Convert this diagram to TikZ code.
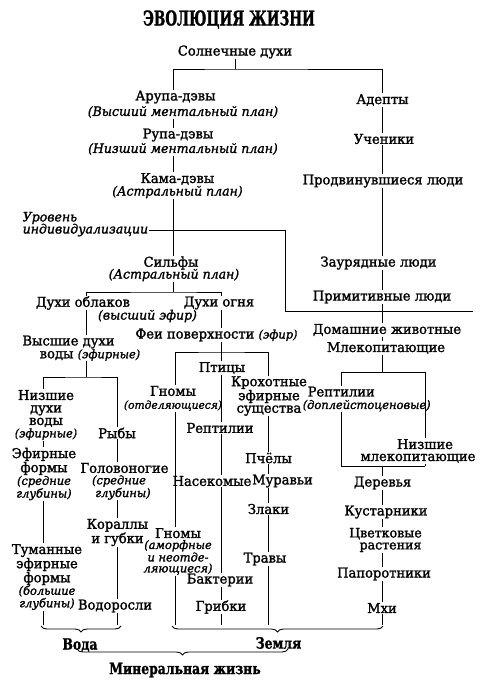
\documentclass[tikz,border=0pt]{standalone}
\usepackage{fontspec}
\setmainfont{DejaVu Serif}[FakeStretch=0.97, FakeBold=1.6]
\newfontfamily\titlefont{DejaVu Serif}[FakeStretch=0.66, FakeBold=1.2]
\newfontfamily\labfont{DejaVu Serif}[FakeStretch=0.80, FakeBold=1.2]
\usetikzlibrary{decorations.pathreplacing}
\newcommand{\smit}[1]{{\fontsize{11.8}{11}\selectfont\itshape #1}}
\begin{document}
\begin{tikzpicture}[x=1pt,y=-1pt,
  n/.style={inner sep=0.5pt, align=center, font=\fontsize{13.5}{12}\selectfont},
  s/.style={inner sep=0.5pt, align=center, font=\fontsize{12.9}{11}\selectfont\itshape},
  si/.style={inner sep=0.5pt, align=center, font=\fontsize{11.8}{11}\selectfont\itshape},
  lab/.style={inner sep=0.5pt, font=\labfont\bfseries\fontsize{15.5}{16}\selectfont},
  conn/.style={line width=1pt},
  brc/.style={line width=0.9pt, decorate, decoration={brace, mirror, amplitude=6pt}}]
\useasboundingbox (0,0) rectangle (489,686);
% column x positions
\coordinate (cL) at (173,0);
\coordinate (cR) at (382,0);
\coordinate (cA) at (175,0);
\coordinate (cB) at (221,0);
\coordinate (cC) at (268,0);
\coordinate (cW1) at (43,0);
\coordinate (cW2) at (117,0);
\coordinate (cD) at (86,0);
\coordinate (cF) at (221,0);
\coordinate (cBL) at (341,0);
\coordinate (cBR) at (425,0);
\coordinate (bot) at (0,625);
% title
\node[inner sep=0.5pt, font=\titlefont\bfseries\fontsize{20.5}{22}\selectfont] (title) at (229,19.5) {ЭВОЛЮЦИЯ ЖИЗНИ};
% top
\node[n] (sol) at (235,52) {Солнечные духи};
\node[n] (arupa) at (175.5,97) {Арупа-дэвы};
\node[s] (arupaS) at (183,112) {(Высший ментальный план)};
\node[n] (rupa) at (178,135) {Рупа-дэвы};
\node[s] (rupaS) at (183,149) {(Низший ментальный план)};
\node[n] (kama) at (177.5,179) {Кама-дэвы};
\node[s] (kamaS) at (177.5,192) {(Астральный план)};
\node[s, anchor=west] (urovA) at (22,218) {Уровень};
\node[s, anchor=west] (urovB) at (22,230) {индивидуализации};
\node[n] (silf) at (171,263) {Сильфы};
\node[s] (silfS) at (174,275) {(Астральный план)};
\node[n] (oblak) at (83,303) {Духи облаков};
\node[n] (ogon) at (219,303) {Духи огня};
\node[s] (efir) at (147.5,316) {(высший эфир)};
\node[n] (vyshA) at (68.5,342) {Высшие духи};
\node[n] (vyshB) at (90,355) {воды \smit{(эфирные)}};
\node[n] (fei) at (216.5,335) {Феи поверхности \smit{(эфир)}};
% right column
\node[n] (adept) at (382.5,100) {Адепты};
\node[n] (uchen) at (384,139) {Ученики};
\node[n] (prodv) at (383,181) {Продвинувшиеся люди};
\node[n] (zaur) at (378.5,263) {Заурядные люди};
\node[n] (prim) at (382,297) {Примитивные люди};
\node[n] (dom) at (387,330) {Домашние животные};
\node[n] (mlek) at (386,348) {Млекопитающие};
\node[n, align=left, anchor=west, font=\fontsize{13.5}{12.5}\selectfont] (rept) at (302,399) {\hspace*{5pt}Рептилии\\\smit{(доплейстоценовые)}};
\node[n, font=\fontsize{13.5}{12}\selectfont] (nizm) at (418,451) {\hspace*{14pt}Низшие\\млекопитающие};
\node[n] (derev) at (382.5,483) {Деревья};
\node[n] (kust) at (386,512) {Кустарники};
\node[n, font=\fontsize{13}{12}\selectfont] (cvet) at (385.5,540) {Цветковые\\\hspace*{10pt}растения};
\node[n] (papor) at (384,574) {Папоротники};
\node[n] (mhi) at (382,608) {Мхи};
% water
\node[n, font=\fontsize{13.5}{12.5}\selectfont] (nizd) at (46,415) {Низшие\\духи\\воды\\\smit{(эфирные)}};
\node[n, font=\fontsize{13.5}{12.7}\selectfont] (efform) at (44,474) {Эфирные\\формы\\\smit{(средние}\\\smit{глубины)}};
\node[n] (ryby) at (117,433) {Рыбы};
\node[n] (golov) at (124.5,468) {Головоногие};
\node[si] (golovS) at (119,487.5) {(средние\\\hspace*{8pt}глубины)};
\node[n, font=\fontsize{13.5}{13}\selectfont] (koral) at (117.5,532.5) {Кораллы\\и губки};
\node[n, font=\fontsize{13.5}{12.5}\selectfont] (tuman) at (47,577) {Туманные\\эфирные\\формы\\\smit{(большие}\\\smit{глубины)}};
\node[n] (vodor) at (115,606) {Водоросли};
% land
\node[n, font=\fontsize{13.5}{13}\selectfont] (gnom1) at (173,398.5) {Гномы\\{\fontsize{11}{11}\selectfont\itshape(отделяющиеся)}};
\node[n] (ptic) at (222,368) {Птицы};
\node[n, font=\fontsize{13.5}{12.5}\selectfont] (kroh) at (269,396) {Крохотные\\эфирные\\существа};
\node[n] (rep1) at (220,428) {Рептилии};
\node[n] (pchel) at (268.5,458) {Пчёлы};
\node[n] (nasek) at (212,481) {Насекомые};
\node[n] (murav) at (282.5,481) {Муравьи};
\node[n] (zlaki) at (268.5,509) {Злаки};
\node[n, font=\fontsize{13.5}{11}\selectfont] (gnom2) at (178,551.5) {Гномы\\\smit{(аморфные}\\\smit{и неотде-}\\\smit{ляющиеся)}};
\node[n] (travy) at (265,559) {Травы};
\node[n] (bakt) at (220,580) {Бактерии};
\node[n] (grib) at (221,607) {Грибки};
% bottom labels
\node[lab] (voda) at (80,645) {Вода};
\node[lab] (zemlya) at (278.5,643) {Земля};
\node[lab] (miner) at (185,670) {Минеральная жизнь};
% connectors
\coordinate (j1) at (235,69);
\draw[conn] (sol) -- (j1);
\draw[conn] (arupa.north -| cL) |- (j1) -| (adept.north -| cR);
\draw[conn] (arupaS.south -| cL) -- (rupa.north -| cL);
\draw[conn] (rupaS.south -| cL) -- (kama.north -| cL);
\draw[conn] (kamaS.south -| cL) -- (silf.north -| cL);
\coordinate (j3) at (173,292);
\draw[conn] (silfS.south -| cL) -- (j3);
\draw[conn] (oblak.north -| cD) |- (j3) -| (ogon.north -| cF);
\draw[conn] (oblak.south -| cD) -- (vyshA.north -| cD);
\draw[conn] (ogon.south -| cF) -- (fei.north -| cF);
% individualisation level
\coordinate (i1) at (285,230);
\coordinate (i2) at (285,311);
\coordinate (i3) at (473,311);
\draw[conn] (urovB.east) -- (i1) -- (i2) -- (i3);
% water
\coordinate (j5) at (86,377);
\draw[conn] (vyshB.south -| cD) -- (j5);
\draw[conn] (nizd.north -| cW1) |- (j5) -| (ryby.north -| cW2);
\draw[conn] (nizd.south -| cW1) -- (efform.north -| cW1);
\draw[conn] (efform.south -| cW1) -- (tuman.north -| cW1);
\draw[conn] (tuman.south -| cW1) -- (cW1 |- bot);
\draw[conn] (ryby.south -| cW2) -- (golov.north -| cW2);
\draw[conn] (golovS.south -| cW2) -- (koral.north -| cW2);
\draw[conn] (koral.south -| cW2) -- (vodor.north -| cW2);
\draw[conn] (vodor.south -| cW2) -- (cW2 |- bot);
% fairies
\coordinate (j4) at (221,352);
\draw[conn] (fei.south -| cF) -- (j4);
\draw[conn] (gnom1.north -| cA) |- (j4) -| (kroh.north -| cC);
\draw[conn] (j4) -- (ptic.north -| cB);
\draw[conn] (gnom1.south -| cA) -- (gnom2.north -| cA);
\draw[conn] (gnom2.south -| cA) -- (cA |- bot);
\draw[conn] (ptic.south -| cB) -- (rep1.north -| cB);
\draw[conn] (rep1.south -| cB) -- (nasek.north -| cB);
\draw[conn] (nasek.south -| cB) -- (bakt.north -| cB);
\draw[conn] (bakt.south -| cB) -- (grib.north -| cB);
\draw[conn] (grib.south -| cB) -- (cB |- bot);
\draw[conn] (kroh.south -| cC) -- (pchel.north -| cC);
\draw[conn] (pchel.south -| cC) -- (murav.north -| cC);
\draw[conn] (murav.south -| cC) -- (zlaki.north -| cC);
\draw[conn] (zlaki.south -| cC) -- (travy.north -| cC);
\draw[conn] (travy.south -| cC) -- (cC |- bot);
% right column
\draw[conn] (adept.south -| cR) -- (uchen.north -| cR);
\draw[conn] (uchen.south -| cR) -- (prodv.north -| cR);
\draw[conn] (prodv.south -| cR) -- (zaur.north -| cR);
\draw[conn] (zaur.south -| cR) -- (prim.north -| cR);
\draw[conn] (prim.south -| cR) -- (dom.north -| cR);
\draw[conn] (dom.south -| cR) -- (mlek.north -| cR);
\coordinate (j2) at (382,372);
\coordinate (jb) at (382,466);
\draw[conn] (mlek.south -| cR) -- (j2);
\draw[conn] (cBL |- j2) -- (cBR |- j2);
\draw[conn] (cBL |- j2) -- (cBL |- rept.north);
\draw[conn] (cBL |- rept.south) -- (cBL |- jb);
\draw[conn] (cBR |- j2) -- (cBR |- nizm.north);
\draw[conn] (cBR |- nizm.south) -- (cBR |- jb);
\draw[conn] (cBL |- jb) -- (cBR |- jb);
\draw[conn] (jb) -- (derev.north -| cR);
\draw[conn] (derev.south -| cR) -- (kust.north -| cR);
\draw[conn] (kust.south -| cR) -- (cvet.north -| cR);
\draw[conn] (cvet.south -| cR) -- (papor.north -| cR);
\draw[conn] (papor.south -| cR) -- (mhi.north -| cR);
\draw[conn] (mhi.south -| cR) -- (cR |- bot);
% braces
\coordinate (bw1) at (41,626);
\coordinate (bw2) at (121,626);
\coordinate (bl1) at (172,626);
\coordinate (bl2) at (383,626);
\coordinate (bm1) at (77,649);
\coordinate (bm2) at (288,649);
\draw[brc] (bw1) -- (bw2);
\draw[brc] (bl1) -- (bl2);
\draw[brc] (bm1) -- (bm2);
\end{tikzpicture}
\end{document}
